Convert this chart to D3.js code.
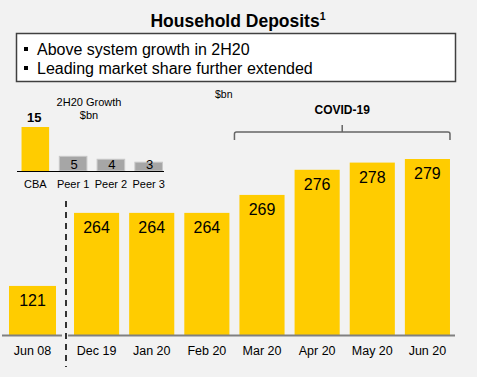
<!DOCTYPE html>
<html><head><meta charset="utf-8">
<script src="https://cdn.jsdelivr.net/npm/d3@7/dist/d3.min.js"></script>
<style>
html,body{margin:0;padding:0;background:#fff;}
svg{display:block;font-family:"Liberation Sans",Arial,sans-serif;}
</style></head>
<body>
<script>
// ---- data ----
const mainCategories = ["Jun 08","Dec 19","Jan 20","Feb 20","Mar 20","Apr 20","May 20","Jun 20"];
const mainValues = [121,264,264,264,269,276,278,279];
const growthCategories = ["CBA","Peer 1","Peer 2","Peer 3"];
const growthValues = [15,5,4,3];
const bullets = ["Above system growth in 2H20","Leading market share further extended"];
const titleText = "Household Deposits";
const covidRange = ["Mar 20","Jun 20"];

const W = 481, H = 384;
const svg = d3.select("body").append("svg").attr("width",W).attr("height",H);
svg.append("rect").attr("x",0).attr("y",0).attr("width",477).attr("height",377).attr("fill","#f2f2f2");

// Title
const t = svg.append("text").attr("x",238).attr("y",27).attr("text-anchor","middle")
  .attr("font-size",17.5).attr("font-weight","bold").attr("fill","#000");
t.append("tspan").text(titleText);
t.append("tspan").text("1").attr("font-size",10.5).attr("dy",-7);

// Box
svg.append("rect").attr("x",16.5).attr("y",33.5).attr("width",439).attr("height",48)
  .attr("fill","#fff").attr("stroke","#404040").attr("stroke-width",1.5);
bullets.forEach((b,i)=>{
  const yy = 55 + i*19;
  svg.append("rect").attr("x",24).attr("y",yy-8).attr("width",4).attr("height",4).attr("fill","#000");
  svg.append("text").attr("x",37).attr("y",yy).attr("font-size",16).attr("fill","#000").text(b);
});

// Main chart
const base = 335;
const xOld = d3.scaleBand().domain(mainCategories.slice(0,1)).range([9,56]).padding(0);
const xNew = d3.scaleBand().domain(mainCategories.slice(1)).range([69,455]).paddingInner(0.182).paddingOuter(0.091);
const xPos = c => c===mainCategories[0] ? xOld(c) : xNew(c);
const bwOf = c => c===mainCategories[0] ? xOld.bandwidth() : xNew.bandwidth();
// broken axis: Jun 08 on its own scale, later bars on a truncated scale
const yOld = d3.scaleLinear().domain([0,740]).range([base, base-300]);
const yNew = d3.scaleLinear().domain([230,279]).range([base, 159]);
const yFor = (d,i)=> i===0 ? yOld(d) : yNew(d);

const g = svg.append("g");
g.selectAll("rect.bar").data(mainValues).join("rect")
  .attr("x",(d,i)=>xPos(mainCategories[i]))
  .attr("y",(d,i)=>yFor(d,i))
  .attr("width",(d,i)=>bwOf(mainCategories[i]))
  .attr("height",(d,i)=>base-yFor(d,i))
  .attr("fill","#ffcc00");
g.selectAll("text.val").data(mainValues).join("text")
  .attr("x",(d,i)=>xPos(mainCategories[i]) + bwOf(mainCategories[i])/2)
  .attr("y",(d,i)=>yFor(d,i)+20)
  .attr("text-anchor","middle").attr("font-size",16).attr("fill","#000")
  .text(d=>d);
g.selectAll("text.cat").data(mainCategories).join("text")
  .attr("x",d=>xPos(d) + bwOf(d)/2)
  .attr("y",355).attr("text-anchor","middle").attr("font-size",12.5).attr("fill","#000")
  .text(d=>d);

// baseline
svg.append("line").attr("x1",2).attr("x2",62).attr("y1",base+0.5).attr("y2",base+0.5)
  .attr("stroke","#808080").attr("stroke-width",2);
svg.append("line").attr("x1",68).attr("x2",455).attr("y1",base+0.5).attr("y2",base+0.5)
  .attr("stroke","#808080").attr("stroke-width",2);
// dashed break line
svg.append("line").attr("x1",66).attr("x2",66).attr("y1",201).attr("y2",367)
  .attr("stroke","#333").attr("stroke-width",2).attr("stroke-dasharray","6,5");

// $bn
svg.append("text").attr("x",215).attr("y",98).attr("font-size",10.5).attr("fill","#000").text("$bn");

// COVID bracket
const bx1 = xPos(covidRange[0]) - 5, bx2 = xPos(covidRange[1]) + xNew.bandwidth();
const bmid = (bx1+bx2)/2;
svg.append("path")
  .attr("d",`M${bx1},140 L${bx1},134 Q${bx1},132 ${bx1+2},132 L${bx2-2},132 Q${bx2},132 ${bx2},134 L${bx2},140 M${bmid},132 L${bmid},125`)
  .attr("fill","none").attr("stroke","#666").attr("stroke-width",1.5);
svg.append("text").attr("x",bmid).attr("y",114).attr("text-anchor","middle")
  .attr("font-size",12).attr("font-weight","bold").attr("fill","#000").text("COVID-19");

// Growth mini chart
const gb = 171;
const xg = d3.scaleBand().domain(growthCategories).range([17,167]).paddingInner(0.27).paddingOuter(0.12);
const yg = d3.scaleLinear().domain([0,15]).range([gb, 127]);
svg.selectAll("rect.g").data(growthValues).join("rect")
  .attr("x",(d,i)=>xg(growthCategories[i])).attr("y",d=>yg(d))
  .attr("width",xg.bandwidth()).attr("height",d=>gb-yg(d))
  .attr("fill",(d,i)=>i===0?"#ffcc00":"#a6a6a6")
  .attr("stroke",(d,i)=>i===0?"none":"#c8c8c8").attr("stroke-width",1);
svg.selectAll("text.gv").data(growthValues).join("text")
  .attr("x",(d,i)=>xg(growthCategories[i])+xg.bandwidth()/2+(i===0?-1:1))
  .attr("y",(d,i)=> i===0 ? yg(d)-5 : gb-2)
  .attr("text-anchor","middle")
  .attr("font-size",13)
  .attr("font-weight",(d,i)=>i===0?"bold":"normal")
  .attr("fill","#000").text(d=>d);
svg.append("line").attr("x1",17).attr("x2",164).attr("y1",gb+0.5).attr("y2",gb+0.5)
  .attr("stroke","#000").attr("stroke-width",1);
svg.selectAll("text.gc").data(growthCategories).join("text")
  .attr("x",d=>xg(d)+xg.bandwidth()/2).attr("y",188)
  .attr("text-anchor","middle").attr("font-size",11).attr("fill","#000").text(d=>d);
svg.append("text").attr("x",89).attr("y",106).attr("text-anchor","middle").attr("font-size",11).attr("fill","#000").text("2H20 Growth");
svg.append("text").attr("x",89).attr("y",119).attr("text-anchor","middle").attr("font-size",11).attr("fill","#000").text("$bn");
</script>
</body></html>
